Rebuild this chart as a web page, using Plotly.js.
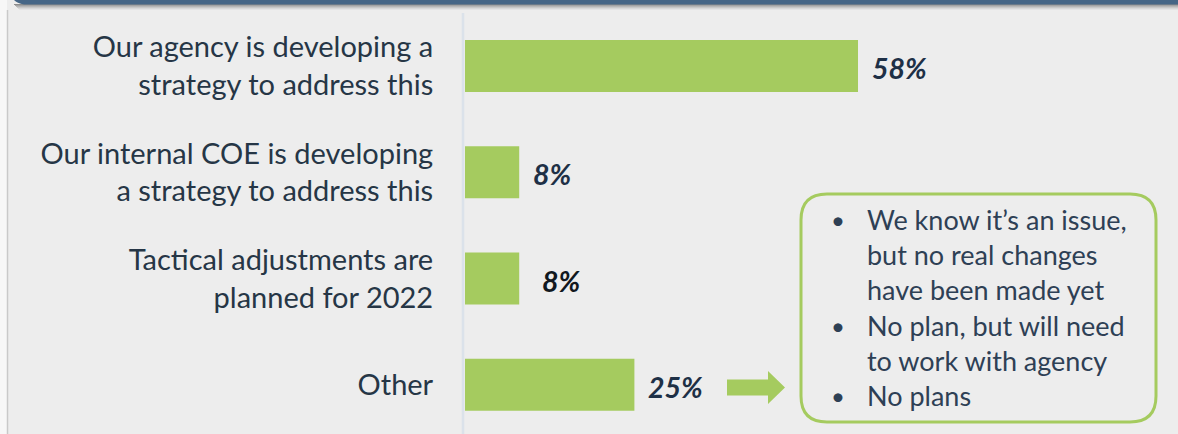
<!DOCTYPE html>
<html>
<head>
<meta charset="utf-8">
<script src="https://cdn.plot.ly/plotly-3.0.1.min.js"></script>
<style>html,body{margin:0;padding:0;background:#ededed;}#chart{width:1178px;height:434px;}</style>
</head>
<body>
<div id="chart"></div>
<script>
// ---- data ----
const categories = [
  "Our agency is developing a<br>strategy to address this",
  "Our internal COE is developing<br>a strategy to address this",
  "Tactical adjustments are<br>planned for 2022",
  "Other"
];
const values = [58, 8, 8, 25];
const valueLabels = ["58%", "8%", "8%", "25%"];
const otherDetails = [
  ["We know it\u2019s an issue,", "but no real changes", "have been made yet"],
  ["No plan, but will need", "to work with agency"],
  ["No plans"]
];

// ---- layout helpers (pixel -> paper) ----
const W = 1178, H = 434;
const mL = 465, mT = 13, mR = 0, mB = 0;
const pw = W - mL - mR, ph = H - mT - mB;
const X = px => (px - mL) / pw;
const Y = py => 1 - (py - mT) / ph;

const green = '#a5cb5f';
const font = 'Lato, "Open Sans", sans-serif';

const trace = {
  type: 'bar',
  orientation: 'h',
  y: categories,
  x: values,
  marker: {color: green},
  width: 0.49,
  hoverinfo: 'skip'
};

const annotations = [];
values.forEach((v, i) => {
  annotations.push({
    x: v, y: categories[i], xref: 'x', yref: 'y',
    text: '<b><i>' + valueLabels[i] + '</i></b>',
    showarrow: false, xanchor: 'left', yanchor: 'middle',
    xshift: i === 2 ? 21 : 12, yshift: -2,
    font: {family: font, size: 28.5, color: i === 2 ? '#111820' : '#1e3046'}
  });
});

// bullet box text
let lineY = 219;
const lineStep = 35.4;
otherDetails.forEach(group => {
  group.forEach((line, j) => {
    if (j === 0) {
      annotations.push({x: X(829), y: Y(lineY), xref: 'paper', yref: 'paper',
        text: '\u2022', showarrow: false, xanchor: 'left', yanchor: 'middle',
        font: {family: font, size: 24, color: '#2e4055'}});
    }
    annotations.push({x: X(865), y: Y(lineY), xref: 'paper', yref: 'paper',
      text: line, showarrow: false, xanchor: 'left', yanchor: 'middle',
      font: {family: font, size: 27, color: '#2e4055'}});
    lineY += lineStep;
  });
});

// shapes
const shapes = [];
// white left strip
shapes.push({type: 'rect', xref: 'paper', yref: 'paper', x0: X(0), x1: X(7), y0: Y(434), y1: Y(0),
  fillcolor: '#f7f7f7', line: {width: 0}, layer: 'below'});
// left border line
shapes.push({type: 'line', xref: 'paper', yref: 'paper', x0: X(7.5), x1: X(7.5), y0: Y(10), y1: Y(434),
  line: {color: '#c9c9c9', width: 1.5}});
// top shadow gradient
const shadowCols = ['#8d8d8d', '#a3a3a3', '#b6b6b6', '#c8c8c8', '#d8d8d8', '#e4e4e4'];
shadowCols.forEach((c, k) => {
  shapes.push({type: 'rect', xref: 'paper', yref: 'paper', x0: X(14 + k), x1: X(1178), y0: Y(5 + k), y1: Y(4 + k),
    fillcolor: c, line: {width: 0}});
});
// top dark band with rounded left end
shapes.push({type: 'path', xref: 'paper', yref: 'paper',
  path: `M ${X(14)} ${Y(0)} L ${X(1178)} ${Y(0)} L ${X(1178)} ${Y(4.5)} L ${X(24)} ${Y(4.5)} Q ${X(17)} ${Y(3)} ${X(14)} ${Y(0)} Z`,
  fillcolor: '#466686', line: {width: 0}});
// axis line
shapes.push({type: 'line', xref: 'paper', yref: 'paper', x0: X(463), x1: X(463), y0: Y(13), y1: Y(434),
  line: {color: '#dbe2ea', width: 2.5}, layer: 'below'});
// arrow
const arrow = [[727, 379.5], [768, 379.5], [768, 371], [785, 387.5], [768, 404], [768, 395.5], [727, 395.5]];
shapes.push({type: 'path', xref: 'paper', yref: 'paper',
  path: 'M ' + arrow.map(p => X(p[0]) + ' ' + Y(p[1])).join(' L ') + ' Z',
  fillcolor: green, line: {width: 0}});
// rounded box
const bx0 = 801, bx1 = 1156, by0 = 194, by1 = 422, r = 26;
shapes.push({type: 'path', xref: 'paper', yref: 'paper',
  path: `M ${X(bx0 + r)} ${Y(by0)} L ${X(bx1 - r)} ${Y(by0)} Q ${X(bx1)} ${Y(by0)} ${X(bx1)} ${Y(by0 + r)} ` +
        `L ${X(bx1)} ${Y(by1 - r)} Q ${X(bx1)} ${Y(by1)} ${X(bx1 - r)} ${Y(by1)} ` +
        `L ${X(bx0 + r)} ${Y(by1)} Q ${X(bx0)} ${Y(by1)} ${X(bx0)} ${Y(by1 - r)} ` +
        `L ${X(bx0)} ${Y(by0 + r)} Q ${X(bx0)} ${Y(by0)} ${X(bx0 + r)} ${Y(by0)} Z`,
  fillcolor: 'rgba(0,0,0,0)', line: {color: green, width: 3}});

const layout = {
  width: W, height: H,
  margin: {l: mL, r: mR, t: mT, b: mB, pad: 0},
  paper_bgcolor: '#ededed', plot_bgcolor: '#ededed',
  showlegend: false,
  font: {family: font},
  xaxis: {range: [0, pw / 6.776], showgrid: false, zeroline: false, showticklabels: false, showline: false, fixedrange: true},
  yaxis: {
    type: 'category', range: [3.464, -0.5], showgrid: false, zeroline: false, showline: false,
    ticks: 'outside', ticklen: 25, tickcolor: 'rgba(0,0,0,0)',
    tickfont: {family: font, size: 29, color: '#263646'}, fixedrange: true
  },
  annotations: annotations,
  shapes: shapes
};

Plotly.newPlot('chart', [trace], layout, {displayModeBar: false, staticPlot: true});
</script>
</body>
</html>
